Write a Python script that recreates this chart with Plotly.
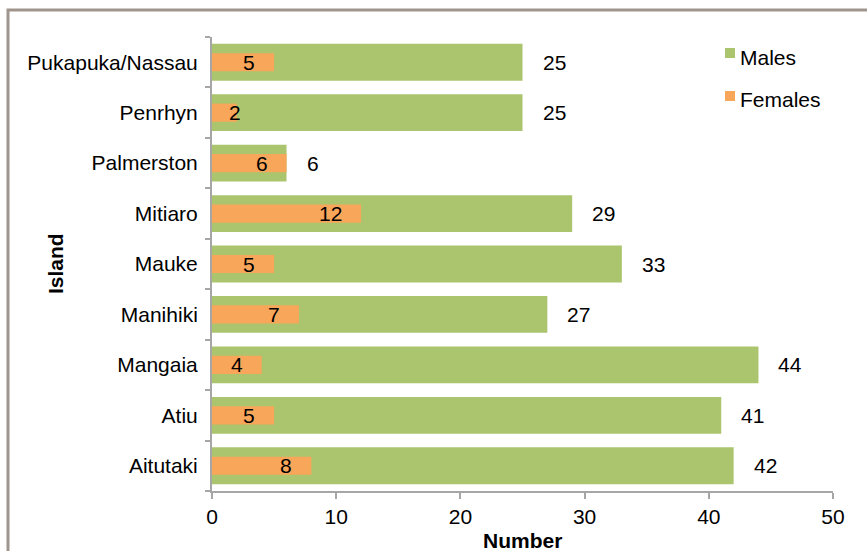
import plotly.graph_objects as go

islands = ["Aitutaki", "Atiu", "Mangaia", "Manihiki", "Mauke", "Mitiaro",
           "Palmerston", "Penrhyn", "Pukapuka/Nassau"]
males = [42, 41, 44, 27, 33, 29, 6, 25, 25]
females = [8, 5, 4, 7, 5, 12, 6, 2, 5]
x_ticks = [0, 10, 20, 30, 40, 50]
series_names = ["Males", "Females"]

GREEN = "#ABC56F"
ORANGE = "#F8A65A"
AXIS = "#A6A6A6"
FONT = "Liberation Sans, Arial, sans-serif"
FS = 21

W, H = 867, 551
L, R, T, B = 212, 34, 37, 60
PW = W - L - R
PH = H - T - B


def px_x(p):
    return (p - L) / PW


def px_y(p):
    return 1 - (p - T) / PH


fig = go.Figure()
fig.add_trace(go.Bar(y=islands, x=males, orientation="h", width=0.73,
                     marker=dict(color=GREEN, line=dict(width=0)),
                     showlegend=False, hoverinfo="x+y", name=series_names[0]))
fig.add_trace(go.Bar(y=islands, x=females, orientation="h", width=0.36,
                     marker=dict(color=ORANGE, line=dict(width=0)),
                     showlegend=False, hoverinfo="x+y", name=series_names[1]))

px_per_unit = PW / (x_ticks[-1] - x_ticks[0])
annotations = []
for isl, m, f in zip(islands, males, females):
    annotations.append(dict(x=m, y=isl, text=str(m), showarrow=False,
                            xanchor="left", xshift=18,
                            font=dict(family=FONT, size=FS, color="black")))
    shift = -19 if f * px_per_unit > 40 else 4
    annotations.append(dict(x=f, y=isl, text=str(f), showarrow=False,
                            xanchor="right", xshift=shift + 2,
                            font=dict(family=FONT, size=FS, color="black")))

# axis titles
annotations.append(dict(xref="paper", yref="paper", x=px_x(55), y=px_y(264),
                        text="<b>Island</b>", textangle=-90, showarrow=False,
                        xanchor="center", yanchor="middle",
                        font=dict(family=FONT, size=FS, color="black")))
annotations.append(dict(xref="paper", yref="paper", x=px_x(522), y=px_y(540),
                        text="<b>Number</b>", showarrow=False,
                        xanchor="center", yanchor="middle",
                        font=dict(family=FONT, size=FS, color="black")))

# manual legend
shapes = [dict(type="rect", xref="paper", yref="paper",
               x0=px_x(8), x1=px_x(W + 20),
               y0=px_y(H + 20), y1=px_y(10),
               line=dict(color="#A0958C", width=3), layer="below")]
legend_colors = [GREEN, ORANGE]
legend_tops = [48, 91]
for name, col, top in zip(series_names, legend_colors, legend_tops):
    shapes.append(dict(type="rect", xref="paper", yref="paper",
                       x0=px_x(725), x1=px_x(735), y0=px_y(top + 10), y1=px_y(top),
                       fillcolor=col, line=dict(width=0)))
    annotations.append(dict(xref="paper", yref="paper", x=px_x(738), y=px_y(top + 9),
                            text=name, showarrow=False, xanchor="left",
                            yanchor="middle",
                            font=dict(family=FONT, size=FS, color="black")))

fig.update_layout(
    width=W, height=H,
    margin=dict(l=L, r=R, t=T, b=B, pad=0, autoexpand=False),
    barmode="overlay",
    showlegend=False,
    plot_bgcolor="white", paper_bgcolor="white",
    font=dict(family=FONT, size=FS, color="black"),
    annotations=annotations,
    shapes=shapes,
    xaxis=dict(range=[x_ticks[0], x_ticks[-1]], tickvals=x_ticks,
               showgrid=False, zeroline=False, automargin=False,
               showline=True, linecolor=AXIS, linewidth=2,
               ticks="outside", ticklen=6, tickwidth=2, tickcolor=AXIS,
               tickfont=dict(family=FONT, size=FS)),
    yaxis=dict(categoryorder="array", categoryarray=islands,
               range=[-0.5, len(islands) - 0.5],
               showgrid=False, zeroline=False, automargin=False,
               showline=True, linecolor=AXIS, linewidth=2,
               ticks="outside", ticklen=5, tickwidth=2, tickcolor=AXIS,
               tickson="boundaries", ticklabelstandoff=8,
               tickfont=dict(family=FONT, size=FS)),
)

fig.write_html("out.html", config={"displayModeBar": False},
               post_script="document.body.style.margin='0';document.body.style.overflow='hidden';")
